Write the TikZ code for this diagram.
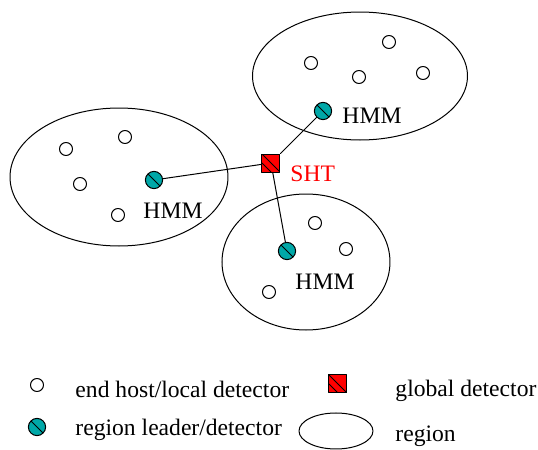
\documentclass[tikz,border=0pt]{standalone}
\usepackage{fontspec}
\setmainfont{Liberation Serif}
\usetikzlibrary{shapes.geometric}
\definecolor{leadercol}{RGB}{0,168,168}
\definecolor{globalcol}{RGB}{255,0,0}
\tikzset{
  region/.style={ellipse,draw,inner sep=0pt},
  host/.style={circle,draw,fill=white,inner sep=0pt,minimum size=6.5pt},
  leader/.style={circle,draw,fill=leadercol,inner sep=0pt,minimum size=8.6pt,
    path picture={\draw (path picture bounding box.north west) -- (path picture bounding box.south east);}},
  globaldet/.style={rectangle,draw,fill=globalcol,inner sep=0pt,minimum size=9pt,
    path picture={\draw (path picture bounding box.north west) -- (path picture bounding box.south east);
                  \draw (path picture bounding box.west) -- (path picture bounding box.south);}},
  lbl/.style={anchor=base west,inner sep=0pt}
}
\begin{document}
\begin{tikzpicture}[x=0.5pt,y=-0.5pt,line width=0.5pt,line join=round,line cap=round,font=\fontsize{11.8}{13}\selectfont]
\useasboundingbox (0,0) rectangle (538,450);
% regions
\node[region,minimum width=107.5pt,minimum height=64pt] (regionA) at (360,76) {};
\node[region,minimum width=109pt,minimum height=69pt] (regionB) at (119,177) {};
\node[region,minimum width=84pt,minimum height=68pt] (regionC) at (306,262) {};
% end hosts
\foreach \x/\y/\n in {311/63/a1,389/42/a2,359/77/a3,423/73/a4,
                      66/149/b1,125/137/b2,80/184/b3,118/215/b4,
                      315/223/c1,346/249/c2,269/292/c3}{\node[host] (host\n) at (\x,\y) {};}
% leaders and global detector
\node[leader] (leaderA) at (323,111) {};
\node[leader] (leaderB) at (154,180) {};
\node[leader] (leaderC) at (287,251) {};
\node[globaldet] (sht) at (271,163) {};
\draw (sht) -- (leaderA);
\draw (sht) -- (leaderB);
\draw (sht) -- (leaderC);
\node[lbl] (hmmA) at (342,123) {HMM};
\node[lbl] (hmmB) at (143,218) {HMM};
\node[lbl] (hmmC) at (295,289) {HMM};
\node[lbl,text=globalcol] (shtlbl) at (290,181) {SHT};
% legend
\node[host] (keyhost) at (37,385) {};
\node[leader] (keyleader) at (37,427) {};
\node[globaldet] (keyglobal) at (338,384) {};
\node[region,minimum width=37pt,minimum height=18pt] (keyregion) at (336,431) {};
\node[lbl] (keyhosttxt) at (75,398) {end host/local detector};
\node[lbl] (keyleadertxt) at (75,436) {region leader/detector};
\node[lbl] (keyglobaltxt) at (395,397) {global detector};
\node[lbl] (keyregiontxt) at (395,442) {region};
\end{tikzpicture}
\end{document}
